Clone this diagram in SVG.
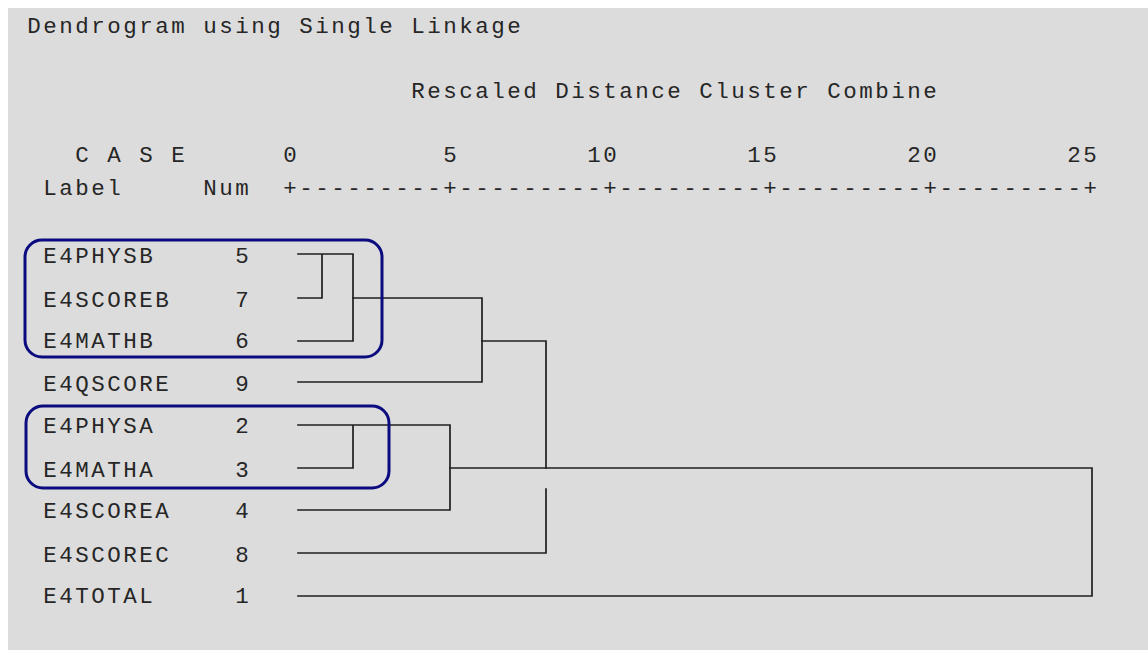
<svg xmlns="http://www.w3.org/2000/svg" width="1148" height="650" viewBox="0 0 1148 650">
  <style>
    .t { font-family: "Liberation Mono", "DejaVu Sans Mono", monospace; font-size: 22.5px; letter-spacing: 2.5px; fill: #262626; }
    .ln { fill: none; stroke: #1f1f1f; stroke-width: 1.7; stroke-linecap: square; }
    .grp { fill: none; stroke: #0b0b80; stroke-width: 3; }
  </style>
  <rect x="0" y="0" width="1148" height="650" fill="#ffffff"/>
  <rect x="8" y="8" width="1140" height="642" fill="#dcdcdc"/>

  <g id="header">
    <text class="t" x="27.3" y="33">Dendrogram using Single Linkage</text>
    <text class="t" x="411.3" y="98">Rescaled Distance Cluster Combine</text>
    <text class="t" x="75.3" y="162">C A S E</text>
    <text class="t" x="283.3" y="162">0</text>
    <text class="t" x="443.3" y="162">5</text>
    <text class="t" x="587.3" y="162">10</text>
    <text class="t" x="747.3" y="162">15</text>
    <text class="t" x="907.3" y="162">20</text>
    <text class="t" x="1067.3" y="162">25</text>
    <text class="t" x="43.3" y="195">Label</text>
    <text class="t" x="203.3" y="195">Num</text>
    <text class="t" x="283.3" y="195">+---------+---------+---------+---------+---------+</text>
  </g>

  <g id="case-5"><text class="t" x="43.3" y="263">E4PHYSB</text><text class="t" x="235.3" y="263">5</text></g>
  <g id="case-7"><text class="t" x="43.3" y="307">E4SCOREB</text><text class="t" x="235.3" y="307">7</text></g>
  <g id="case-6"><text class="t" x="43.3" y="348">E4MATHB</text><text class="t" x="235.3" y="348">6</text></g>
  <g id="case-9"><text class="t" x="43.3" y="391">E4QSCORE</text><text class="t" x="235.3" y="391">9</text></g>
  <g id="case-2"><text class="t" x="43.3" y="433">E4PHYSA</text><text class="t" x="235.3" y="433">2</text></g>
  <g id="case-3"><text class="t" x="43.3" y="477">E4MATHA</text><text class="t" x="235.3" y="477">3</text></g>
  <g id="case-4"><text class="t" x="43.3" y="518">E4SCOREA</text><text class="t" x="235.3" y="518">4</text></g>
  <g id="case-8"><text class="t" x="43.3" y="562">E4SCOREC</text><text class="t" x="235.3" y="562">8</text></g>
  <g id="case-1"><text class="t" x="43.3" y="603">E4TOTAL</text><text class="t" x="235.3" y="603">1</text></g>

  <g id="connectors">
    <path class="ln" d="M298 254 H353 M322 254 V298 M298 298 H322 M298 341 H353 M353 254 V341"/>
    <path class="ln" d="M353 298 H482 M298 382 H482 M482 298 V382"/>
    <path class="ln" d="M482 341 H546 M546 341 V468"/>
    <path class="ln" d="M298 425 H450 M298 468 H353 M353 425 V468 M298 510 H450 M450 425 V510"/>
    <path class="ln" d="M450 468 H1092 M1092 468 V596 M298 596 H1092"/>
    <path class="ln" d="M298 553 H546 M546 489 V553"/>
  </g>

  <g id="cluster-b">
    <rect class="grp" x="25" y="240" width="357" height="117" rx="17"/>
  </g>
  <g id="cluster-a">
    <rect class="grp" x="26" y="406" width="363" height="82" rx="17"/>
  </g>
</svg>
